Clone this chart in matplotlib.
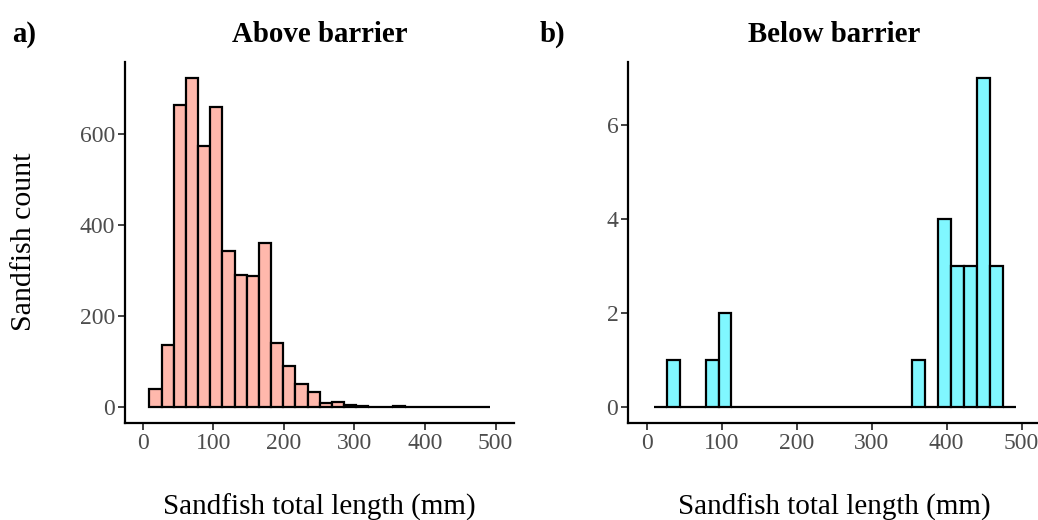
import numpy as np
import matplotlib
matplotlib.use("Agg")
import matplotlib.pyplot as plt

plt.rcParams['font.family'] = ['Liberation Serif', 'DejaVu Serif']

# histogram bins shared by both panels (mm)
bin_edges = np.linspace(9.6, 492, 29)

# counts per bin
above_counts = [39, 135, 664, 723, 574, 660, 342, 289, 287, 360, 140, 90, 50, 32,
                8, 10, 4, 1, 0, 0, 1, 0, 0, 0, 0, 0, 0, 0]
below_counts = [0, 1, 0, 0, 1, 2, 0, 0, 0, 0, 0, 0, 0, 0,
                0, 0, 0, 0, 0, 0, 1, 0, 4, 3, 3, 7, 3, 0]

titles = ["Above barrier", "Below barrier"]
tags = ["a)", "b)"]
fills = ["#FFB8AC", "#80F7FF"]
xlabel = "Sandfish total length (mm)"
ylabel = "Sandfish count"

W, H = 1038, 520
fig = plt.figure(figsize=(W / 100, H / 100), dpi=100)

# panel boxes in pixels: (left, right, top, bottom)
boxes = [(125, 514, 61.7, 423), (628, 1041, 61.7, 423)]
tag_x = [12, 540]

for i, counts in enumerate([above_counts, below_counts]):
    l, r, t, b = boxes[i]
    ax = fig.add_axes([l / W, 1 - b / H, (r - l) / W, (b - t) / H])
    ax.bar(bin_edges[:-1], counts, width=np.diff(bin_edges), align='edge',
           color=fills[i], edgecolor='black', linewidth=1.6)
    top = max(counts) * 1.05
    ax.set_ylim(-max(counts) * 0.05, top)
    ax.set_xlim(-25, 526)
    ax.set_xticks([0, 100, 200, 300, 400, 500])
    if i == 0:
        ax.set_yticks([0, 200, 400, 600])
    else:
        ax.set_yticks([0, 2, 4, 6])
    for s in ['top', 'right']:
        ax.spines[s].set_visible(False)
    for s in ['left', 'bottom']:
        ax.spines[s].set_linewidth(1.6)
    ax.tick_params(length=5, width=1.3, color='#333333', labelcolor='#4D4D4D',
                   labelsize=17, pad=2)
    cx = (l + r) / 2
    fig.text(cx / W, 1 - 41.7 / H, titles[i], ha='center', va='baseline',
             fontsize=20.8, fontweight='bold')
    fig.text(tag_x[i] / W, 1 - 41.7 / H, tags[i], ha='left', va='baseline',
             fontsize=20.8, fontweight='bold')
    fig.text(cx / W, 1 - 515 / H, xlabel, ha='center', va='baseline', fontsize=21)

fig.text(24 / W, 1 - 242 / H, ylabel, ha='center', va='center', rotation=90,
         fontsize=21.5)

fig.savefig("out.png", dpi=100)
